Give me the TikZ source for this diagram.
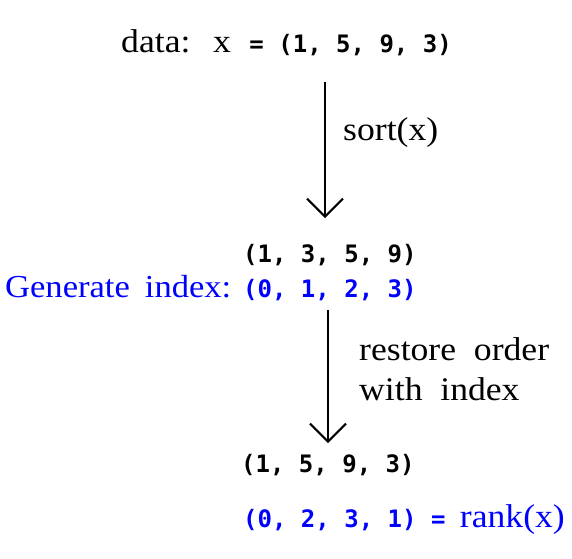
\documentclass[tikz,border=0pt]{standalone}
\usepackage{fontspec}
\setmainfont{Liberation Serif}[FakeStretch=1.08]
\setmonofont{DejaVu Sans Mono}
\usetikzlibrary{arrows.meta}
\definecolor{cidx}{RGB}{0,0,255}
\newcommand{\vecfont}{\fontsize{24}{40}\selectfont\ttfamily\bfseries}

\begin{document}
\begin{tikzpicture}[x=1pt,y=-1pt,
  txt/.style={inner sep=0,anchor=base west,font=\fontsize{33}{40}\selectfont},
  vec/.style={inner sep=0,anchor=base west,font=\vecfont},
  idx/.style={text=cidx},
  arr/.style={-{Straight Barb[length=18pt,width=36pt]},line width=2pt},
]
\useasboundingbox (0,0) rectangle (572,558);
% data and its sorted copy
\node[txt] (data) at (121,52) {data:};
\node[txt] (xval) at (213,52) {x\hspace{4pt}{\vecfont\ = (1, 5, 9, 3)}};
\node[vec] (sorted) at (243,262) {(1, 3, 5, 9)};
\node[txt,idx,font=\fontsize{32}{40}\selectfont] (genlbl) at (5,297) {Generate\hspace{15pt}index:};
\node[vec,idx] (genidx) at (243,297) {(0, 1, 2, 3)};
% back in the first order
\node[vec] (restored) at (241,472) {(1, 5, 9, 3)};
\node[txt,idx] (rank) at (243,527) {{\vecfont(0, 2, 3, 1) = }rank(x)};
\coordinate (a1x) at (325,0);
\coordinate (a2x) at (328,0);
\draw[arr] ([yshift=-30pt]xval.base -| a1x) -- ([yshift=44pt]sorted.base -| a1x);
\draw[arr] ([yshift=-13pt]genidx.base -| a2x) -- ([yshift=29pt]restored.base -| a2x);
\node[txt] (sortlbl) at (343,140) {sort(x)};
\node[txt,align=left,anchor=north west] (restlbl) at (359,337) {restore~~order\\with~~index};
\end{tikzpicture}
\end{document}
